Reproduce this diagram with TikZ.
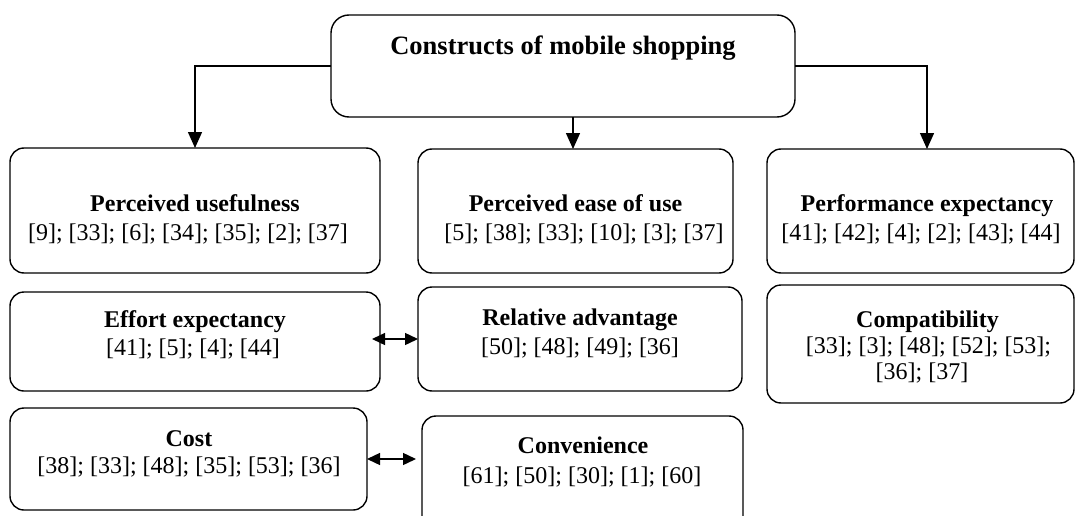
\documentclass[tikz,border=0pt]{standalone}
\usepackage{fontspec}
\setmainfont{Liberation Serif}
\usetikzlibrary{arrows.meta}
\begin{document}
\begin{tikzpicture}[x=1pt,y=-1pt,
  box/.style={draw, line width=1.4pt, rounded corners=14pt, inner sep=0pt, outer sep=0pt},
  ttl/.style={font=\fontsize{24}{28}\selectfont\bfseries, anchor=base, inner sep=0pt},
  bigttl/.style={font=\fontsize{26.5}{30}\selectfont\bfseries, anchor=base, inner sep=0pt},
  ref/.style={font=\fontsize{24}{28}\selectfont, anchor=base, inner sep=0pt},
  arr/.style={line width=1.4pt, -{Triangle[length=16pt,width=14pt]}},
  darr/.style={line width=1.4pt, {Triangle[length=13pt,width=12pt]}-{Triangle[length=13pt,width=12pt]}}]
\path[use as bounding box] (0,0) rectangle (1075,516);
\clip (0,0) rectangle (1075,516);
% boxes
\node[box, minimum width=464pt, minimum height=102pt, rounded corners=18pt] (top) at (563,66) {};
\node[box, minimum width=370pt, minimum height=125pt] (A) at (195,210.5) {};
\node[box, minimum width=315pt, minimum height=124pt] (B) at (575.5,211) {};
\node[box, minimum width=307pt, minimum height=124pt] (C) at (920.5,211) {};
\node[box, minimum width=370pt, minimum height=99pt] (E) at (195,341.5) {};
\node[box, minimum width=324pt, minimum height=104pt] (R) at (580,339) {};
\node[box, minimum width=307pt, minimum height=118pt] (P) at (920.5,344) {};
\node[box, minimum width=357pt, minimum height=102pt] (K) at (188.5,459) {};
\node[box, minimum width=321pt, minimum height=120pt] (V) at (582.5,476) {};
% texts
\node[bigttl] (t0) at (563,55) {Constructs of mobile shopping};
\node[ttl] (tA) at (195,211) {Perceived usefulness};
\node[ref] (rA) at (188,240) {[9]; [33]; [6]; [34]; [35]; [2]; [37]};
\node[ttl] (tB) at (575.5,211) {Perceived ease of use};
\node[ref] (rB) at (584,240) {[5]; [38]; [33]; [10]; [3]; [37]};
\node[ttl] (tC) at (927,211) {Performance expectancy};
\node[ref] (rC) at (921,240) {[41]; [42]; [4]; [2]; [43]; [44]};
\node[ttl] (tE) at (195,327) {Effort expectancy};
\node[ref] (rE) at (193,355) {[41]; [5]; [4]; [44]};
\node[ttl] (tR) at (580,325) {Relative advantage};
\node[ref] (rR) at (580,354) {[50]; [48]; [49]; [36]};
\node[ttl] (tP) at (927.5,327) {Compatibility};
\node[ref] (rP1) at (928.5,353) {[33]; [3]; [48]; [52]; [53];};
\node[ref] (rP2) at (922,379) {[36]; [37]};
\node[ttl] (tK) at (189,446) {Cost};
\node[ref] (rK) at (189,473) {[38]; [33]; [48]; [35]; [53]; [36]};
\node[ttl] (tV) at (583,453) {Convenience};
\node[ref] (rV) at (582,483) {[61]; [50]; [30]; [1]; [60]};
% connectors
\coordinate (mx) at (573,0);
\coordinate (rx) at (927,0);
\draw[arr] (top.west) -| (A.north);
\draw[arr] (top.south -| mx) -- (B.north -| mx);
\draw[arr] (top.east) -| (C.north -| rx);
\draw[darr] ([xshift=-8pt]E.east |- R.west) -- (R.west);
\draw[darr] (K.east) -- ([xshift=-6pt]V.west |- K.east);
\end{tikzpicture}
\end{document}
